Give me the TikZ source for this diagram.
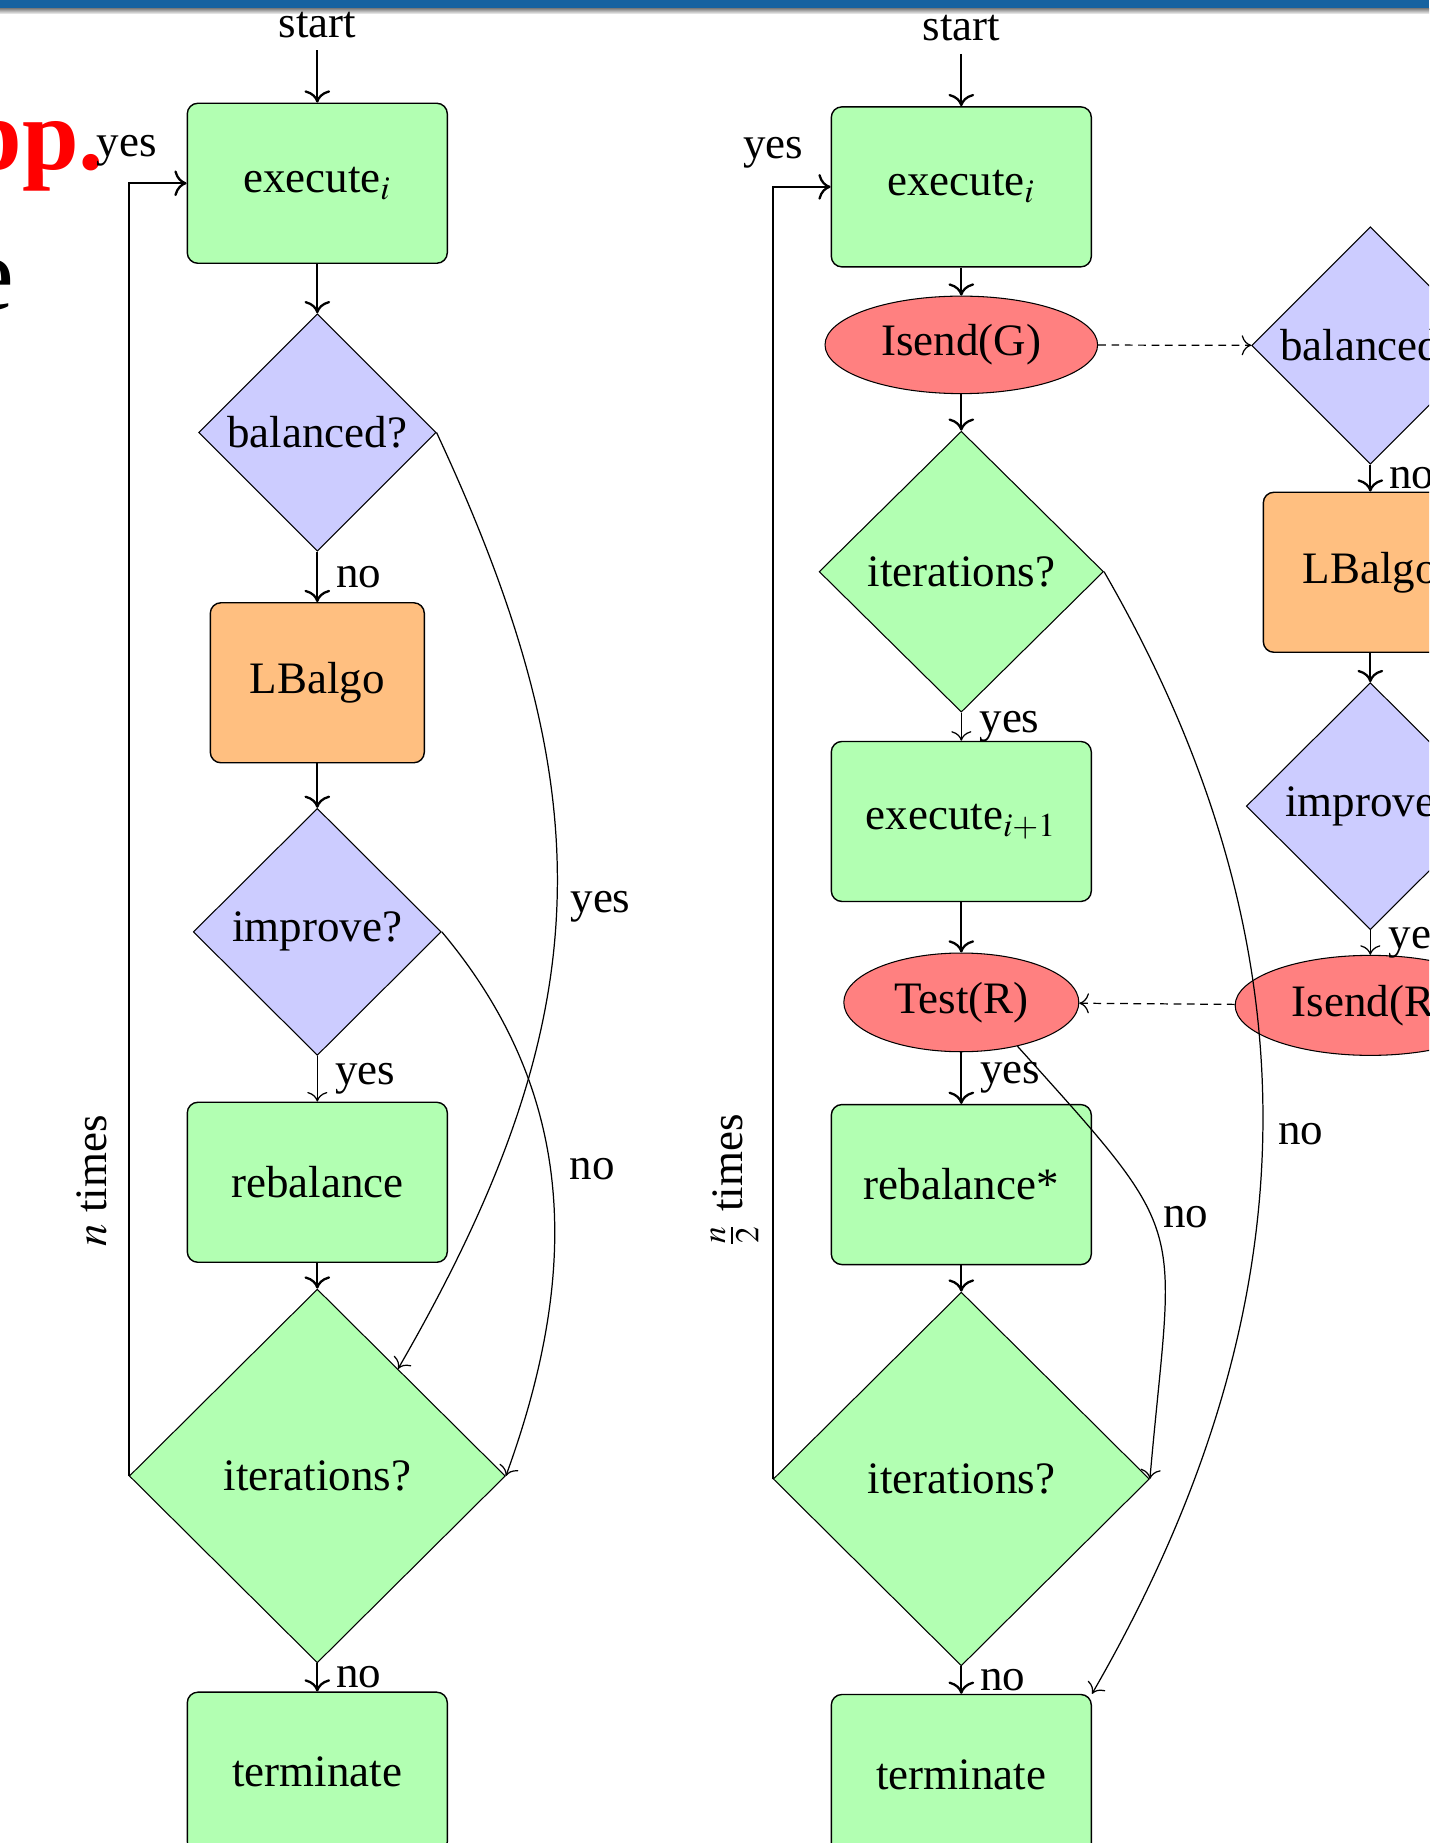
\documentclass[tikz,border=0pt]{standalone}
\usepackage{mathptmx}
\usepackage{fontspec}
\setmainfont{Liberation Serif}
\usepackage{xcolor}
\usetikzlibrary{shapes.geometric}
\usetikzlibrary{arrows.meta}
\definecolor{barblue}{RGB}{22,98,160}

\begin{document}
\begin{tikzpicture}[
  every node/.style={font=\fontsize{12.8}{15}\selectfont},
  proc/.style={rectangle, rounded corners=3pt, draw, fill=green!30, minimum width=2.6cm, minimum height=1.6cm, line width=0.4pt},
  algo/.style={proc, fill=orange!50, minimum width=2.14cm},
  ask/.style={diamond, aspect=1, draw, fill=blue!20, inner sep=0pt, line width=0.3pt},
  loopask/.style={ask, fill=green!30},
  msg/.style={ellipse, draw, fill=red!50, inner sep=0pt, line width=0.3pt},
  side/.style={right, inner sep=5pt},
  flow/.style={->, line width=0.65pt},
  fine/.style={->, line width=0.35pt},
  dashflow/.style={->, line width=0.35pt, dash pattern=on 2.2pt off 1.6pt},
]
\tikzset{>={To[scale=1.15]}}
\path[use as bounding box, clip] (0,0) rectangle (14.29,18.43);
\fill[white] (0,0) rectangle (14.29,18.43);
\fill[barblue] (0,18.34) rectangle (14.29,18.43);
\shade[top color=gray!90, bottom color=gray!15] (0,18.295) rectangle (14.29,18.34);

\node[anchor=base east, inner sep=0pt, text=red, font=\fontsize{29}{30}\selectfont\bfseries] (H1) at (1.05,16.73) {pp.};
\node[anchor=base east, inner sep=0pt, font=\fontsize{30}{32}\selectfont] (H2) at (0.15,15.33) {e};

\node (S1) at (3.173,18.18) {start};
\node[proc] (E1) at (3.173,16.597) {execute$_i$};
\node[ask, minimum width=2.374cm, minimum height=2.374cm] (B1) at (3.173,14.105) {balanced?};
\node[algo] (L1) at (3.173,11.602) {LBalgo};
\node[ask, minimum width=2.48cm, minimum height=2.47cm] (P1) at (3.173,9.111) {improve?};
\node[proc] (R1) at (3.173,6.607) {rebalance};
\node[loopask, minimum width=3.761cm, minimum height=3.737cm] (I1) at (3.173,3.670) {iterations?};
\node[proc] (T1) at (3.173,0.708) {terminate};

\node (S2) at (9.613,18.145) {start};
\node[proc] (E2) at (9.613,16.561) {execute$_i$};
\node[msg, minimum width=2.726cm, minimum height=0.975cm] (G2) at (9.613,14.981) {Isend(G)};
\node[loopask, minimum width=2.844cm, minimum height=2.809cm] (I2) at (9.613,12.713) {iterations?};
\node[proc] (E3) at (9.613,10.215) {execute$_{i+1}$};
\node[msg, minimum width=2.35cm, minimum height=0.987cm] (Q2) at (9.613,8.406) {Test(R)};
\node[proc] (R2) at (9.613,6.584) {rebalance*};
\node[loopask, minimum width=3.761cm, minimum height=3.737cm] (I3) at (9.613,3.640) {iterations?};
\node[proc] (T2) at (9.613,0.685) {terminate};

\node[ask, minimum width=2.374cm, minimum height=2.374cm] (B3) at (13.703,14.975) {balanced?};
\node[algo] (L3) at (13.703,12.707) {LBalgo};
\node[ask, minimum width=2.48cm, minimum height=2.47cm] (P3) at (13.703,10.368) {improve?};
\node[msg, minimum width=2.703cm, minimum height=1.0cm] (G3) at (13.703,8.376) {Isend(R)};

\node (Y1) at (1.269,16.92) {yes};
\node (Y2) at (7.733,16.90) {yes};
\node[rotate=90] (N1) at (0.917,6.619) {$n$ times};
\node[rotate=90] (N2) at (7.345,6.619) {$\frac{n}{2}$ times};
\node (C1) at (6.005,9.36) {yes};
\node (C2) at (5.923,6.74) {no};
\node (C3) at (13.009,7.09) {no};
\node (C4) at (11.858,6.26) {no};

\draw[flow] (S1) -- (E1);
\draw[flow] (E1) -- (B1);
\draw[flow] (B1) -- node[side] (n1) {no} (L1);
\draw[flow] (L1) -- (P1);
\draw[fine] (P1) -- node[side] (y3) {yes} (R1);
\draw[flow] (R1) -- (I1);
\draw[flow] (I1) -- node[side] (n2) {no} (T1);
\draw[flow] (I1.west) |- (E1.west);
\draw[fine] (B1.east) to[out=-65, in=60, looseness=1.1] (I1.53);
\draw[fine] (P1.east) to[out=-50, in=70] (I1.east);

\draw[flow] (S2) -- (E2);
\draw[flow] (E2) -- (G2);
\draw[flow] (G2) -- (I2);
\draw[fine] (I2) -- node[side] (y4) {yes} (E3);
\draw[flow] (E3) -- (Q2);
\draw[flow] (Q2) -- node[side] (y5) {yes} (R2);
\draw[flow] (R2) -- (I3);
\draw[flow] (I3) -- node[side] (n3) {no} (T2);
\draw[flow] (I3.west) |- (E2.west);
\draw[fine] (I2.east) to[out=-60, in=60] (T2.north east);
\draw[fine] (Q2.-38) to[out=-48, in=85, looseness=1.5] (I3.east);

\draw[dashflow] (G2) -- (B3);
\draw[flow] (B3) -- node[side] (n4) {no} (L3);
\draw[flow] (L3) -- (P3);
\draw[fine] (P3) -- node[side] (y6) {yes} (G3);
\draw[dashflow] (G3) -- (Q2);
\end{tikzpicture}
\end{document}
